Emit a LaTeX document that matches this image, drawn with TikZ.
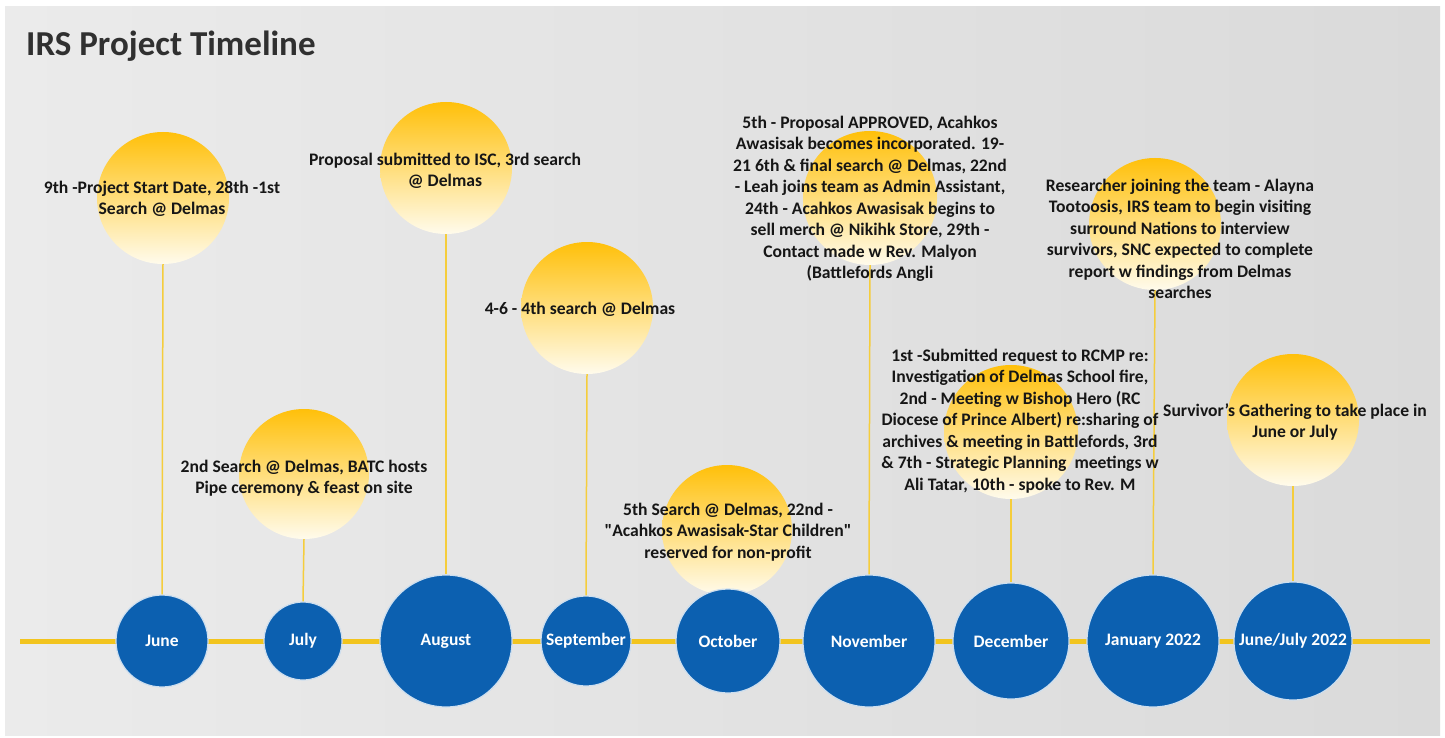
\documentclass[tikz,border=0pt]{standalone}
\usepackage{fontspec}
\setmainfont{Carlito}
\newfontfamily\rawq{Carlito}
\definecolor{bgL}{RGB}{235,235,235}
\definecolor{bgM}{RGB}{246,246,246}
\definecolor{bgR}{RGB}{218,218,218}
\definecolor{sunTop}{RGB}{255,192,10}
\definecolor{sunBot}{RGB}{255,251,236}
\definecolor{monthBlue}{RGB}{12,96,176}
\definecolor{lineGold}{RGB}{242,196,30}
\definecolor{stemYellow}{RGB}{245,205,60}
\definecolor{evtText}{RGB}{22,22,22}
\definecolor{titleText}{RGB}{48,48,48}
\begin{document}
\begin{tikzpicture}[x=1pt,y=-1pt,
  sun/.style={circle, inner sep=0pt, minimum size=#1, top color=sunTop, bottom color=sunBot, draw=none},
  month/.style={circle, inner sep=0pt, minimum size=#1, fill=monthBlue, draw=white!80!monthBlue, line width=1.2pt, text=white, font=\fontsize{17.5}{20}\selectfont\bfseries},
  evt/.style={align=center, font=\fontsize{17.6}{21.5}\selectfont\bfseries, text=evtText, inner sep=0pt},
  stem/.style={draw=stemYellow, line width=1.5pt},
  axisline/.style={draw=lineGold, line width=5pt}]
\useasboundingbox (0,0) rectangle (1445,738);
\fill[white] (0,0) rectangle (1445,738);
\shade[left color=bgL, middle color=bgM, right color=bgR] (5,7) rectangle (1440,735);
% title
\node[anchor=west, inner sep=0pt, text=titleText, font=\fontsize{35}{40}\selectfont\bfseries] (title) at (26,46) {IRS Project Timeline};
% axis
\coordinate (axL) at (20,641);
\coordinate (axR) at (1430,641);
\draw[axisline] (axL) -- (axR);
% suns
\node[sun=132] (sJun) at (163,198) {};
\node[sun=130] (sJul) at (304,474) {};
\node[sun=132] (sAug) at (446,168) {};
\node[sun=132] (sSep) at (587,308) {};
\node[sun=130] (sOct) at (727,530) {};
\node[sun=134] (sNov) at (870,198) {};
\node[sun=134] (sDec) at (1011,432) {};
\node[sun=132] (sJan) at (1155,224) {};
\node[sun=132] (sJJ) at (1293,420) {};
% months
\node[month=92] (jun) at (162,641) {June};
\node[month=78] (jul) at (303,641) {July};
\node[month=132] (aug) at (446,641) {August};
\node[month=90] (sep) at (586,641) {September};
\node[month=104] (oct) at (728,641) {October};
\node[month=132] (nov) at (869,641) {November};
\node[month=116] (dec) at (1011,641) {December};
\node[month=132] (jan) at (1153,641) {January 2022};
\node[month=118] (jj) at (1293,641) {June/July 2022};
% stems
\draw[stem] (sJun.south) -- (jun.north);
\draw[stem] (sJul.south) -- (jul.north);
\draw[stem] (sAug.south) -- (aug.north);
\draw[stem] (sSep.south) -- (sep.north);
\draw[stem] (sNov.south) -- (nov.north);
\draw[stem] (sDec.south) -- (dec.north);
\draw[stem] (sJan.south) -- (jan.north);
\draw[stem] (sJJ.south) -- (jj.north);
% texts
\node[evt] (tJun) at (162,199) {9th -Project Start Date, 28th -1st\\Search @ Delmas};
\node[evt] (tAug) at (445,171) {Proposal submitted to ISC, 3rd search\\@ Delmas};
\node[evt] (tSep) at (580,309) {4-6 - 4th search @ Delmas};
\node[evt] (tJul) at (304,478) {2nd Search @ Delmas, BATC hosts\\Pipe ceremony \& feast on site};
\node[evt] (tOct) at (728,532) {5th Search @ Delmas, 22nd -\\{\rawq"}Acahkos Awasisak-Star Children{\rawq"}\\reserved for non-profit};
\node[evt] (tNov) at (870,199) {5th - Proposal APPROVED, Acahkos\\Awasisak becomes incorporated. 19-\\21 6th \& final search @ Delmas, 22nd\\- Leah joins team as Admin Assistant,\\24th - Acahkos Awasisak begins to\\sell merch @ Nikihk Store, 29th -\\Contact made w Rev. Malyon\\(Battlefords Angli};
\node[evt] (tDec) at (1020,421) {1st -Submitted request to RCMP re:\\Investigation of Delmas School fire,\\2nd - Meeting w Bishop Hero (RC\\Diocese of Prince Albert) re:sharing of\\archives \& meeting in Battlefords, 3rd\\\& 7th - Strategic Planning\ \ meetings w\\Ali Tatar, 10th - spoke to Rev. M};
\node[evt] (tJan) at (1180,239) {Researcher joining the team - Alayna\\Tootoosis, IRS team to begin visiting\\surround Nations to interview\\survivors, SNC expected to complete\\report w findings from Delmas\\searches};
\node[evt] (tJJ) at (1295,422) {Survivor's Gathering to take place in\\June or July};
\end{tikzpicture}
\end{document}
